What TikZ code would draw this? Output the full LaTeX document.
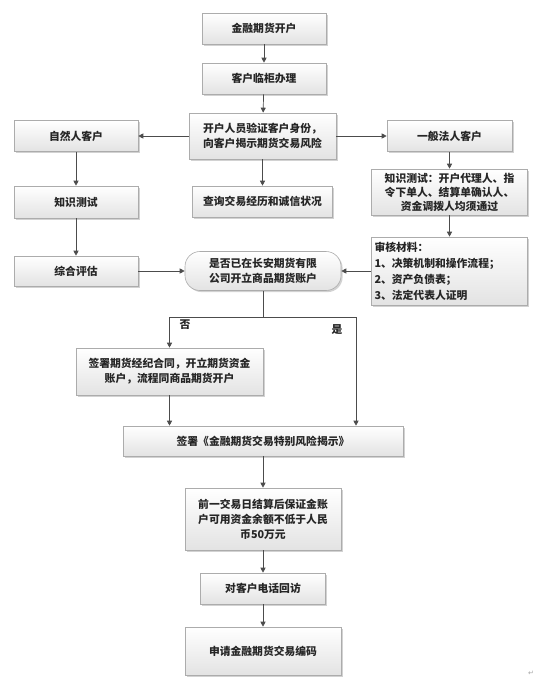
\documentclass[tikz,border=0pt]{standalone}
\usepackage{fontspec}
\newfontfamily\cjk{Noto Sans CJK SC}
\newfontfamily\dejavu{DejaVu Sans}
\usetikzlibrary{arrows.meta,shadows,calc}
\begin{document}
\begin{tikzpicture}[x=1pt,y=-1pt,
  font=\cjk\bfseries\fontsize{10.8}{15}\selectfont,
  box/.style={draw=gray!65, line width=0.6pt, top color=white, bottom color=gray!22,
    drop shadow={shadow xshift=1.6pt, shadow yshift=-1.6pt, opacity=0.35, fill=gray},
    inner sep=0pt, align=center, text=black!85},
  arr/.style={draw=gray!60!black, line width=0.7pt, -{Triangle[width=5pt,length=5pt]}},
  ln/.style={draw=gray!60!black, line width=0.7pt}]
\useasboundingbox (0,0) rectangle (544,685);
\fill[white] (0,0) rectangle (544,685);
% nodes
\node[box, minimum width=124, minimum height=31] (b1) at (264,28.5) {金融期货开户};
\node[box, minimum width=124, minimum height=31] (b2) at (264,78.5) {客户临柜办理};
\node[box, minimum width=147, minimum height=46] (b3) at (262.5,136) {开户人员验证客户身份，\\向客户揭示期货交易风险};
\node[box, minimum width=124, minimum height=31] (b4) at (76,136) {自然人客户};
\node[box, minimum width=125, minimum height=31] (b5) at (449.5,136) {一般法人客户};
\node[box, minimum width=124, minimum height=32] (b6) at (76,202) {知识测试};
\node[box, minimum width=140, minimum height=31] (b7) at (262.5,201.5) {查询交易经历和诚信状况};
\node[box, minimum width=156, minimum height=46, font=\cjk\bfseries\fontsize{10.8}{14}\selectfont] (b8) at (449.5,192) {知识测试：开户代理人、指\\令下单人、结算单确认人、\\资金调拨人均须通过};
\node[box, minimum width=156, minimum height=68, text width=150, align=left, font=\cjk\bfseries\fontsize{10.8}{16}\selectfont] (b9) at (449.5,271) {审核材料：\\1、决策机制和操作流程；\\2、资产负债表；\\3、法定代表人证明};
\node[box, minimum width=124, minimum height=30] (b10) at (76,271) {综合评估};
\node[box, rounded corners=15pt, minimum width=156, minimum height=39] (b11) at (263,271) {是否已在长安期货有限\\公司开立商品期货账户};
\node[box, minimum width=187, minimum height=47] (b12) at (169.5,371.5) {签署期货经纪合同，开立期货资金\\账户，流程同商品期货开户};
\node[box, minimum width=280, minimum height=30] (b13) at (263,441) {签署《金融期货交易特别风险揭示》};
\node[box, minimum width=156, minimum height=62] (b14) at (263,519) {前一交易日结算后保证金账\\户可用资金余额不低于人民\\币50万元};
\node[box, minimum width=125, minimum height=31] (b15) at (263,588.5) {对客户电话回访};
\node[box, minimum width=156, minimum height=48] (b16) at (263,651) {申请金融期货交易编码};
% connectors
\draw[arr] (b1) -- (b2);
\draw[arr] (b2) -- (b3);
\draw[arr] (b3) -- (b4);
\draw[arr] (b3) -- (b5);
\draw[arr] (b3.south -| b7) -- (b7);
\draw[arr] (b4) -- (b6);
\draw[arr] (b6) -- (b10);
\draw[arr] (b5) -- (b8);
\draw[arr] (b8) -- (b9);
\draw[arr] (b10) -- (b11);
\draw[arr] (b9) -- (b11);
\coordinate (j) at (263,317);
\coordinate (r) at (356,317);
\draw[ln] (b11) -- (j);
\draw[arr] (j) -| (b12.north);
\draw[arr] (j) -- (r) -- (r |- b13.north);
\draw[arr] (b12) -- (b12 |- b13.north);
\draw[arr] (b13.south -| b14) -- (b14);
\draw[arr] (b14) -- (b15);
\draw[arr] (b15) -- (b16);
% labels
\node[text=black!85] (no) at (185,325) {否};
\node[text=black!85] (yes) at (337,330) {是};
\node[text=gray!70, font=\dejavu\fontsize{7}{8}\selectfont] (pm) at (531,673) {↵};
\end{tikzpicture}
\end{document}
